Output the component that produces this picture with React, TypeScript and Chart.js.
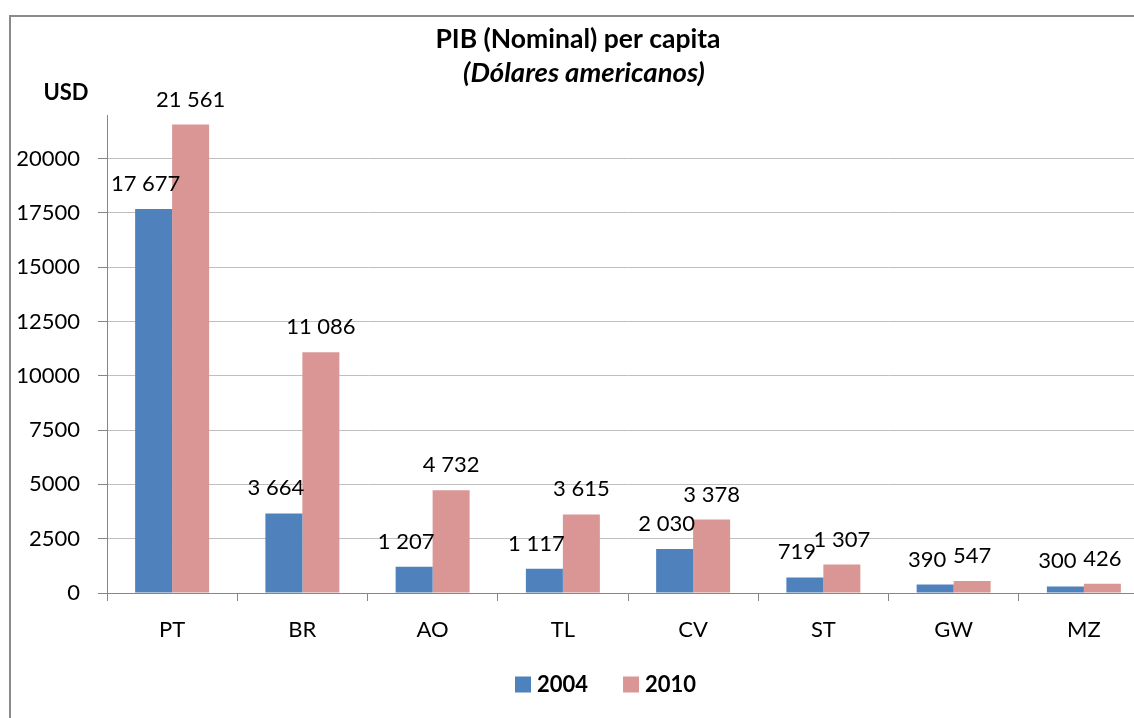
import React, { useEffect, useRef } from "react";
import { Chart, registerables } from "chart.js";

Chart.register(...registerables);

const TITLE = "PIB (Nominal) per capita";
const SUBTITLE = "(Dólares americanos)";
const UNIT = "USD";
const categories = ["PT", "BR", "AO", "TL", "CV", "ST", "GW", "MZ"];
const seriesNames = ["2004", "2010"];
const values2004 = [17677, 3664, 1207, 1117, 2030, 719, 390, 300];
const values2010 = [21561, 11086, 4732, 3615, 3378, 1307, 547, 426];
const yTicks = [0, 2500, 5000, 7500, 10000, 12500, 15000, 17500, 20000];
const Y_MAX = 22000;

const FONT = "Lato, 'Open Sans', sans-serif";
const BLUE = "#4F81BD";
const PINK = "#D99694";
const AXIS = "#868686";
const GRID = "#BFBFBF";

const fmt = (v: number) => String(v).replace(/\B(?=(\d{3})+(?!\d))/g, " ");

const textPlugin = {
  id: "customText",
  afterDraw(chart: any) {
    const ctx = chart.ctx;
    ctx.save();
    ctx.fillStyle = "#000";
    ctx.textAlign = "center";
    ctx.textBaseline = "alphabetic";
    ctx.font = `bold 26.5px ${FONT}`;
    ctx.fillText(TITLE, 578, 48);
    ctx.font = `italic bold 27.5px ${FONT}`;
    ctx.fillText(SUBTITLE, 584, 82);
    ctx.font = `bold 22px ${FONT}`;
    ctx.fillText(UNIT, 66, 100);

    // data labels
    ctx.font = `22px ${FONT}`;
    chart.data.datasets.forEach((ds: any, di: number) => {
      const meta = chart.getDatasetMeta(di);
      meta.data.forEach((bar: any, i: number) => {
        const v = ds.data[i] as number;
        ctx.fillText(fmt(v), bar.x + (di === 0 ? -8 : 0), bar.y - 18);
      });
    });

    // legend
    ctx.font = `bold 22px ${FONT}`;
    ctx.textAlign = "left";
    ctx.textBaseline = "middle";
    let x = 515;
    const cy = 684.5;
    chart.data.datasets.forEach((ds: any) => {
      ctx.fillStyle = ds.backgroundColor;
      ctx.fillRect(x, cy - 8, 16, 16);
      ctx.fillStyle = "#000";
      ctx.fillText(ds.label, x + 22, cy);
      x += 22 + ctx.measureText(ds.label).width + 35;
    });
    ctx.restore();
  },
};

export default function App() {
  const ref = useRef<HTMLCanvasElement | null>(null);
  useEffect(() => {
    if (!ref.current) return;
    const chart = new Chart(ref.current, {
      type: "bar",
      data: {
        labels: categories,
        datasets: [
          { label: seriesNames[0], data: values2004, backgroundColor: BLUE, borderWidth: 0 },
          { label: seriesNames[1], data: values2010, backgroundColor: PINK, borderWidth: 0 },
        ],
      },
      options: {
        responsive: false,
        animation: false,
        devicePixelRatio: 1,
        layout: { padding: { left: 0, right: 31, top: 115, bottom: 0 } },
        datasets: { bar: { categoryPercentage: 0.568, barPercentage: 1 } },
        plugins: {
          title: { display: false },
          tooltip: { enabled: false },
          legend: { display: false },
        },
        scales: {
          x: {
            afterFit: (s: any) => {
              s.height = 125;
            },
            grid: {
              drawOnChartArea: false,
              drawTicks: true,
              tickLength: 8,
              tickColor: AXIS,
              offset: true,
            },
            border: { color: AXIS, width: 1 },
            ticks: { color: "#000", padding: 16, font: { family: FONT, size: 22 } },
          },
          y: {
            min: 0,
            max: Y_MAX,
            afterFit: (s: any) => {
              s.width = 107;
            },
            afterBuildTicks: (s: any) => {
              s.ticks = yTicks.map((v) => ({ value: v }));
            },
            grid: { color: GRID, tickColor: AXIS, tickLength: 9, lineWidth: 1 },
            border: { color: AXIS, width: 1 },
            ticks: {
              autoSkip: false,
              color: "#000",
              padding: 18,
              font: { family: FONT, size: 22 },
              callback: (v: any) => String(v),
            },
          },
        },
      },
      plugins: [textPlugin],
    });
    return () => chart.destroy();
  }, []);
  return (
    <div
      style={{
        position: "fixed",
        left: 0,
        top: 0,
        width: 1134,
        height: 718,
        overflow: "hidden",
        background: "#fff",
      }}
    >
      <div
        style={{
          position: "absolute",
          left: 9,
          top: 15,
          width: 1300,
          height: 800,
          border: "2px solid #8a8a8a",
        }}
      />
      <canvas
        ref={ref}
        width={1180}
        height={718}
        style={{ position: "absolute", left: 0, top: 0, width: 1180, height: 718 }}
      />
    </div>
  );
}
